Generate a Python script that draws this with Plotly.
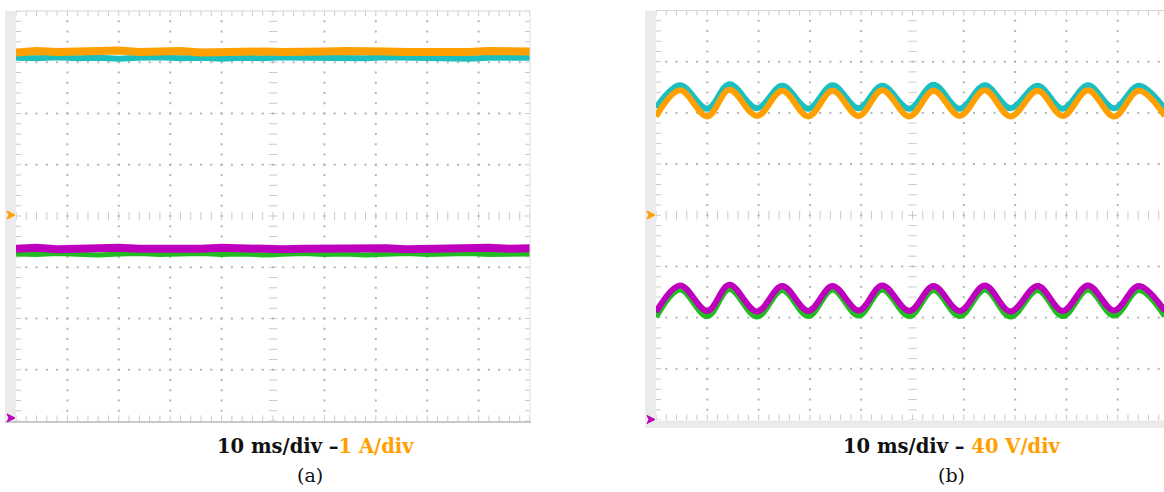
import plotly.graph_objects as go

W, H = 1164, 492

# ---------------- data (time in ms, vertical position in divisions) -------------
t_a = [0, 4, 8, 12, 16, 20, 24, 28, 32, 36, 40, 44, 48, 52, 56, 60, 64, 68, 72, 76, 80, 84, 88, 92, 96, 100]
orange_a = [3.19, 3.22, 3.20, 3.21, 3.19, 3.23, 3.20, 3.21, 3.22, 3.19, 3.20, 3.22, 3.21,
            3.20, 3.19, 3.21, 3.22, 3.20, 3.21, 3.20, 3.19, 3.21, 3.20, 3.22, 3.20, 3.21]
cyan_a = [3.09, 3.08, 3.10, 3.08, 3.09, 3.07, 3.09, 3.10, 3.08, 3.09, 3.07, 3.09, 3.08,
          3.10, 3.09, 3.08, 3.09, 3.08, 3.10, 3.09, 3.08, 3.09, 3.07, 3.09, 3.08, 3.09]
magenta_a = [-0.64, -0.62, -0.65, -0.63, -0.64, -0.62, -0.64, -0.65, -0.63, -0.64, -0.62, -0.64, -0.63,
             -0.65, -0.64, -0.63, -0.62, -0.64, -0.63, -0.65, -0.64, -0.63, -0.64, -0.62, -0.64, -0.63]
green_a = [-0.74, -0.75, -0.73, -0.74, -0.76, -0.74, -0.73, -0.75, -0.74, -0.73, -0.75, -0.74, -0.76,
           -0.74, -0.73, -0.75, -0.74, -0.76, -0.74, -0.73, -0.75, -0.74, -0.73, -0.75, -0.74, -0.74]

t_b = [0, 4.7, 10.0, 14.3, 19.7, 24.6, 29.7, 34.4, 39.5, 44.1, 49.4,
       54.1, 59.2, 64.1, 69.1, 74.4, 79.3, 84.2, 89.3, 94.1, 99.2]
cyan_b = [2.10, 2.54, 2.08, 2.56, 2.09, 2.53, 2.08, 2.54, 2.09, 2.53, 2.08,
          2.55, 2.08, 2.54, 2.09, 2.53, 2.08, 2.54, 2.09, 2.53, 2.08]
orange_b = [1.93, 2.44, 1.93, 2.45, 1.94, 2.43, 1.93, 2.43, 1.94, 2.44, 1.93,
            2.43, 1.94, 2.44, 1.93, 2.43, 1.94, 2.44, 1.93, 2.43, 1.94]
magenta_b = [-1.89, -1.37, -1.87, -1.36, -1.88, -1.38, -1.87, -1.38, -1.86, -1.37, -1.87,
             -1.38, -1.87, -1.37, -1.88, -1.38, -1.87, -1.37, -1.86, -1.38, -1.87]
green_b = [-1.99, -1.45, -1.97, -1.44, -1.98, -1.46, -1.97, -1.45, -1.96, -1.45, -1.97,
           -1.46, -1.97, -1.45, -1.98, -1.46, -1.97, -1.45, -1.96, -1.46, -1.97]

captions = ["10 ms/div –", "1 A/div", "10 ms/div – ", "40 V/div"]
sub_labels = ["(a)", "(b)"]

ORANGE = "#FFA000"
CYAN = "#1CBFBF"
MAGENTA = "#BE00BE"
GREEN = "#22BB22"
GRID = "#b4b4b4"
STRIP = "#ebebeb"

# ---------------- layout geometry (pixels) ----------------
panels = [
    dict(x0=16, x1=530, y0=11, y1=421, xmax=100.0, xa="x", ya="y"),
    dict(x0=656, x1=1164, y0=10.5, y1=420, xmax=(1164 - 656) / 51.3 * 10, xa="x2", ya="y2"),
]

fig = go.Figure()


def px(x):
    return x / W


def py(y):
    return 1 - y / H


def graticule(p):
    xa, ya, xmax = p["xa"], p["ya"], p["xmax"]
    gx, gy = [], []
    # dotted vertical lines
    for i in range(1, 10):
        if i == 5:
            continue
        xv = i * 10
        if xv > xmax:
            continue
        for k in range(1, 40):
            gx.append(xv)
            gy.append(-4 + k * 0.2)
    # dotted horizontal lines
    for j in range(-3, 4):
        if j == 0:
            continue
        for k in range(1, 50):
            xv = k * 2
            if xv > xmax:
                continue
            gx.append(xv)
            gy.append(j)
    fig.add_trace(go.Scatter(x=gx, y=gy, mode="markers", xaxis=xa, yaxis=ya,
                             marker=dict(symbol="square", size=2, color=GRID),
                             hoverinfo="skip", showlegend=False))
    # vertical tick marks (top, bottom borders, centre horizontal line)
    vx, vy, vs = [], [], []
    for k in range(0, 51):
        xv = k * 2
        if xv > xmax:
            continue
        for yv, s in ((4, 7), (-4, 8), (0, 6)):
            vx.append(xv)
            vy.append(yv)
            vs.append(s)
    fig.add_trace(go.Scatter(x=vx, y=vy, mode="markers", xaxis=xa, yaxis=ya,
                             marker=dict(symbol="line-ns", size=vs,
                                         line=dict(width=1, color=GRID)),
                             hoverinfo="skip", showlegend=False))
    # horizontal tick marks (left, right edges, centre vertical line)
    hx, hy, hs = [], [], []
    for k in range(0, 41):
        yv = -4 + k * 0.2
        edges = [(0, 7), (50, 6)]
        if xmax >= 100:
            edges.append((100, 7))
        for xv, s in edges:
            hx.append(xv)
            hy.append(yv)
            hs.append(s)
    fig.add_trace(go.Scatter(x=hx, y=hy, mode="markers", xaxis=xa, yaxis=ya,
                             marker=dict(symbol="line-ew", size=hs,
                                         line=dict(width=1, color=GRID)),
                             hoverinfo="skip", showlegend=False))


for p in panels:
    graticule(p)


def trace(x, y, color, width, xa, ya, shape="linear"):
    fig.add_trace(go.Scatter(x=x, y=y, mode="lines", xaxis=xa, yaxis=ya,
                             line=dict(color=color, width=width, shape=shape, smoothing=1.0),
                             hoverinfo="skip", showlegend=False))


# panel (a)
trace(t_a, cyan_a, CYAN, 6, "x", "y")
trace(t_a, orange_a, ORANGE, 8, "x", "y")
trace(t_a, green_a, GREEN, 5, "x", "y")
trace(t_a, magenta_a, MAGENTA, 8, "x", "y")
# panel (b)
trace(t_b, cyan_b, CYAN, 6, "x2", "y2", "spline")
trace(t_b, orange_b, ORANGE, 6, "x2", "y2", "spline")
trace(t_b, green_b, GREEN, 6, "x2", "y2", "spline")
trace(t_b, magenta_b, MAGENTA, 6, "x2", "y2", "spline")

shapes = []
# panel (a) frame pieces
shapes.append(dict(type="rect", xref="paper", yref="paper", x0=px(5), x1=px(16),
                   y0=py(423), y1=py(11), fillcolor=STRIP, line=dict(width=0), layer="below"))
shapes.append(dict(type="line", xref="paper", yref="paper", x0=px(5), x1=px(531),
                   y0=py(422), y1=py(422), line=dict(color="#c8c8c8", width=2)))
shapes.append(dict(type="line", xref="paper", yref="paper", x0=px(16), x1=px(530),
                   y0=py(11), y1=py(11), line=dict(color="#d6d6d6", width=1)))
shapes.append(dict(type="line", xref="paper", yref="paper", x0=px(530), x1=px(530),
                   y0=py(421), y1=py(11), line=dict(color="#dddddd", width=1)))
# panel (b) frame pieces
shapes.append(dict(type="rect", xref="paper", yref="paper", x0=px(645), x1=px(656),
                   y0=py(428), y1=py(10.5), fillcolor=STRIP, line=dict(width=0), layer="below"))
shapes.append(dict(type="rect", xref="paper", yref="paper", x0=px(645), x1=px(1164),
                   y0=py(428), y1=py(420.5), fillcolor=STRIP, line=dict(width=0), layer="below"))
shapes.append(dict(type="line", xref="paper", yref="paper", x0=px(656), x1=px(1164),
                   y0=py(10.5), y1=py(10.5), line=dict(color="#d6d6d6", width=1)))


def ref_arrow(cx, cy, color):
    pts = [(cx - 4, cy - 4), (cx + 4, cy), (cx - 4, cy + 4), (cx - 2, cy)]
    path = "M " + " L ".join(f"{px(a):.6f},{py(b):.6f}" for a, b in pts) + " Z"
    return dict(type="path", xref="paper", yref="paper", path=path,
                fillcolor=color, line=dict(color=color, width=1), layer="above")


shapes.append(ref_arrow(11, 215, ORANGE))
shapes.append(ref_arrow(11, 418, MAGENTA))
shapes.append(ref_arrow(651, 215, ORANGE))
shapes.append(ref_arrow(651, 419.5, MAGENTA))

FONT = "DejaVu Serif"
annotations = [
    dict(x=px(315), y=py(446), xref="paper", yref="paper", showarrow=False,
         xanchor="center", yanchor="middle",
         text="<b>" + captions[0] + "<span style='color:" + ORANGE + "'>" + captions[1] + "</span></b>",
         font=dict(family=FONT, size=19.5, color="#111111")),
    dict(x=px(952), y=py(446), xref="paper", yref="paper", showarrow=False,
         xanchor="center", yanchor="middle",
         text="<b>" + captions[2] + "<span style='color:" + ORANGE + "'>" + captions[3] + "</span></b>",
         font=dict(family=FONT, size=19.5, color="#111111")),
    dict(x=px(310), y=py(475), xref="paper", yref="paper", showarrow=False,
         xanchor="center", yanchor="middle", text=sub_labels[0],
         font=dict(family=FONT, size=19, color="#111111")),
    dict(x=px(951), y=py(475), xref="paper", yref="paper", showarrow=False,
         xanchor="center", yanchor="middle", text=sub_labels[1],
         font=dict(family=FONT, size=19, color="#111111")),
]

ax_common = dict(showgrid=False, zeroline=False, showticklabels=False, ticks="",
                 showline=False, fixedrange=True)
p0, p1 = panels
fig.update_layout(
    width=W, height=H, margin=dict(l=0, r=0, t=0, b=0),
    paper_bgcolor="white", plot_bgcolor="white",
    xaxis=dict(domain=[px(p0["x0"]), px(p0["x1"])], range=[0, p0["xmax"]], **ax_common),
    yaxis=dict(domain=[py(p0["y1"]), py(p0["y0"])], range=[-4, 4], **ax_common),
    xaxis2=dict(domain=[px(p1["x0"]), 1.0], range=[0, p1["xmax"]], anchor="y2", **ax_common),
    yaxis2=dict(domain=[py(p1["y1"]), py(p1["y0"])], range=[-4, 4], anchor="x2", **ax_common),
    shapes=shapes, annotations=annotations, showlegend=False,
)

fig.write_html("out.html", config={"displayModeBar": False},
               post_script="document.body.style.margin='0px';document.body.style.overflow='hidden';")
